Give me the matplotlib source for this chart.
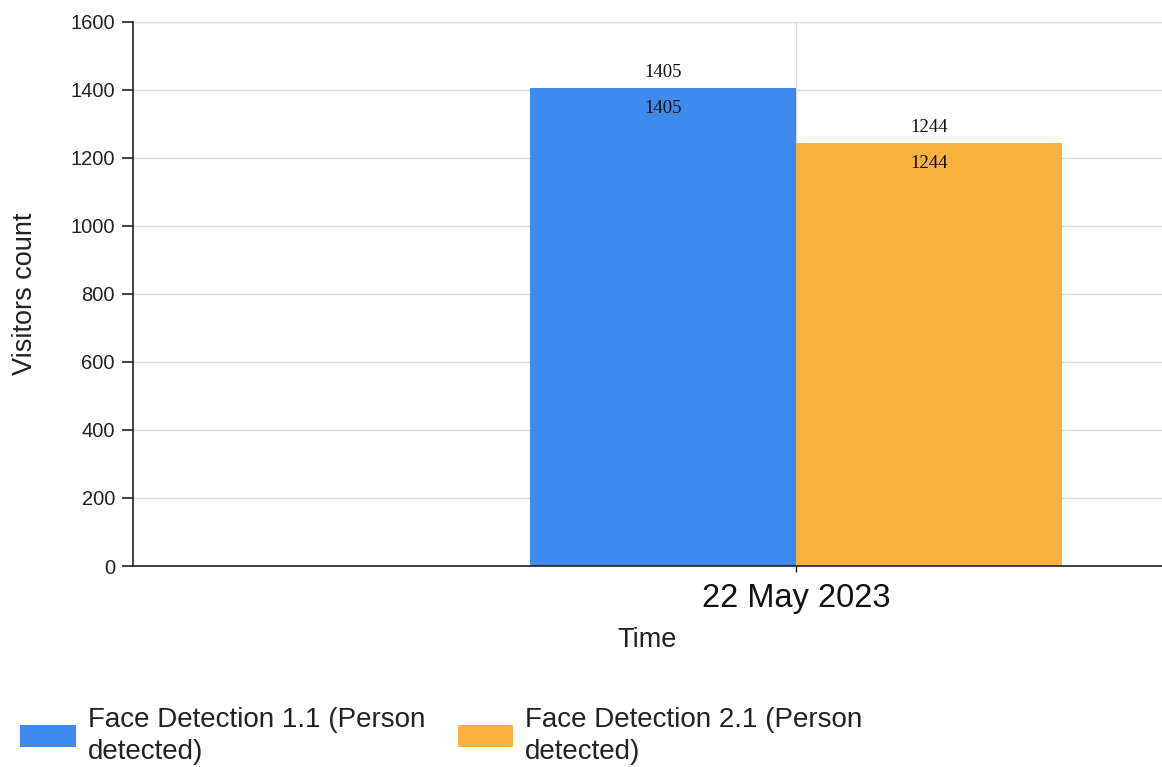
import numpy as np
import matplotlib
matplotlib.use("Agg")
import matplotlib.pyplot as plt

plt.rcParams['font.family'] = ['Liberation Sans', 'DejaVu Sans']

# Data
categories = ['22 May 2023']
series_names = ['Face Detection 1.1 (Person\ndetected)',
                'Face Detection 2.1 (Person\ndetected)']
fd11_counts = [1405]
fd21_counts = [1244]
y_ticks = [0, 200, 400, 600, 800, 1000, 1200, 1400, 1600]

colors = ['#3f8aee', '#f9b13f']
label_color = '#222222'

W, H = 1162, 767
fig = plt.figure(figsize=(W / 100, H / 100), dpi=100)
ax = fig.add_axes([133 / W, 1 - 566 / H, (W - 133) / W, 544 / H])

x = np.arange(len(categories))
width = 1.0
bars = []
for i, (vals, name, c) in enumerate(zip([fd11_counts, fd21_counts], series_names, colors)):
    b = ax.bar(x + (i - 0.5) * width, vals, width, color=c, label=name, zorder=2)
    bars.append(b)

# Value labels above and just inside each bar
for b in bars:
    ax.bar_label(b, labels=[str(v) for v in b.datavalues], padding=5,
                 fontsize=13.5, family='Liberation Serif', color='#111111')
    ax.bar_label(b, labels=[str(v) for v in b.datavalues], padding=-21,
                 fontsize=13.5, family='Liberation Serif', color='#111111')

ax.set_xlim(-2.49, 1.376)
ax.set_ylim(0, 1600)
ax.set_yticks(y_ticks)
ax.set_xticks(x)
ax.set_xticklabels(categories)

ax.grid(True, axis='both', color='#d9d9d9', linewidth=1.0, zorder=0)
ax.set_axisbelow(True)

for s in ['top', 'right']:
    ax.spines[s].set_visible(False)
for s in ['left', 'bottom']:
    ax.spines[s].set_color('#111111')
    ax.spines[s].set_linewidth(1.1)

ax.tick_params(axis='y', length=8, width=1.1, color='#111111', pad=5,
               labelsize=14.5, labelcolor=label_color)
ax.tick_params(axis='x', length=4, width=1.0, color='#111111', pad=8,
               labelsize=23.5, labelcolor='#111111')

ax.set_ylabel('Visitors count', fontsize=19.5, color=label_color, va='center')
ax.yaxis.set_label_coords(-0.105, 0.5)
ax.set_xlabel('Time', fontsize=19.5, color=label_color, va='center')
ax.xaxis.set_label_coords(0.5, -0.136)

handles = [bars[0], bars[1]]
leg = fig.legend(handles, series_names, loc='center left',
                 bbox_to_anchor=(20 / W, 1 - 736 / H), ncol=2, frameon=False,
                 fontsize=20, labelcolor=label_color,
                 handlelength=2.0, handleheight=0.85, handletextpad=0.43,
                 columnspacing=1.18, borderpad=0, borderaxespad=0)
for t in leg.get_texts():
    t.set_linespacing(1.3)

fig.savefig('out.png', dpi=100, facecolor='white')
